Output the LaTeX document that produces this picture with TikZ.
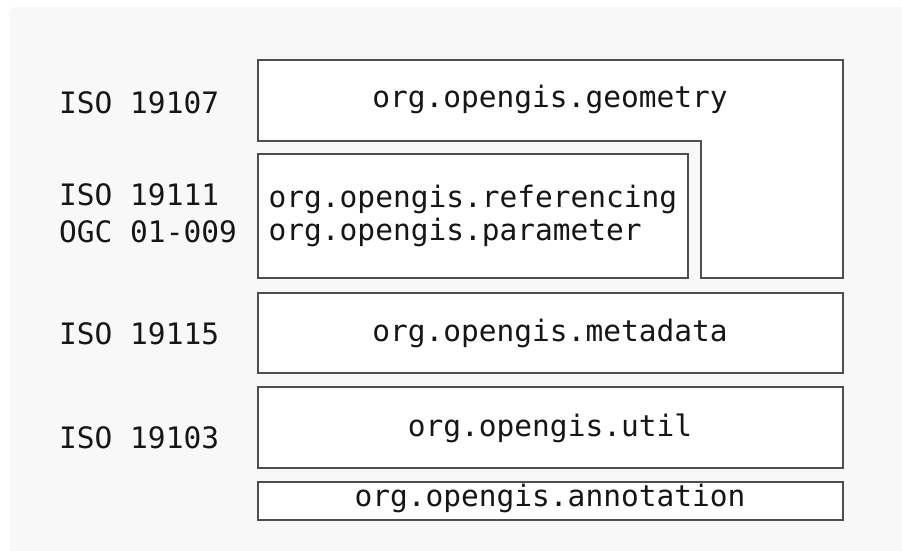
\documentclass[tikz,border=0pt]{standalone}
\usepackage{fontspec}
\setmonofont{DejaVu Sans Mono}
\definecolor{panel}{HTML}{F8F8F8}
\definecolor{edge}{HTML}{4E4E4E}
\definecolor{ink}{HTML}{161616}
\begin{document}
\begin{tikzpicture}[x=1pt,y=-1pt,
  lbl/.style={inner sep=0pt,anchor=base west,text=ink,
    font=\ttfamily\fontsize{29.5}{33.4}\selectfont},
  pkg/.style={inner sep=0pt,anchor=base,text=ink,
    font=\ttfamily\fontsize{29.5}{33.4}\selectfont},
  layer/.style={draw=edge,fill=white,line width=1.4pt}]
\useasboundingbox (0,0) rectangle (902,550);
\begin{scope}
  \clip (0,0) rectangle (902,550);
  \fill[panel,rounded corners=7pt] (9,7) rectangle (930,580);
\end{scope}

% L-shaped geometry layer wrapping the referencing block
\draw[layer] (258,60) -- (843,60) -- (843,278) -- (701,278) -- (701,141) -- (258,141) -- cycle;
\draw[layer] (258,154) rectangle (688,278);
\draw[layer] (258,293) rectangle (843,373);
\draw[layer] (258,387) rectangle (843,468);
\draw[layer] (258,482) rectangle (843,520);

% package names
\node[pkg] (geom) at (550,107) {org.opengis.geometry};
\node[lbl] (refs) at (268.5,207.3) {org.opengis.referencing};
\node[lbl] (param) at (268.5,240.7) {org.opengis.parameter};
\node[pkg] (meta) at (550,341) {org.opengis.metadata};
\node[pkg] (util) at (550,436) {org.opengis.util};
\node[pkg] (annot) at (550,506) {org.opengis.annotation};

% standards
\node[lbl] (s19107) at (59,113.3) {ISO 19107};
\node[lbl] (s19111) at (59,205) {ISO 19111};
\node[lbl] (s01009) at (59,242.3) {OGC 01-009};
\node[lbl] (s19115) at (59,344) {ISO 19115};
\node[lbl] (s19103) at (59,448) {ISO 19103};
\end{tikzpicture}
\end{document}
